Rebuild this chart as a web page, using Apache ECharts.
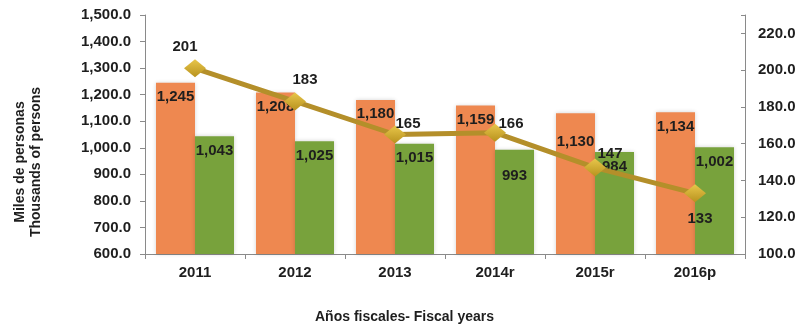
<!DOCTYPE html>
<html><head><meta charset="utf-8">
<script src="https://cdn.jsdelivr.net/npm/echarts@6/dist/echarts.min.js"></script>
<style>html,body{margin:0;padding:0;background:#fff}#c{width:802px;height:328px}</style>
</head><body><div id="c"></div>
<script>
const categories = ['2011','2012','2013','2014r','2015r','2016p'];
const seriesOrange = [1245,1208,1180,1159,1130,1134];
const seriesGreen = [1043,1025,1015,993,984,1002];
const seriesLine = [201,183,165,166,147,133];
const leftAxisRange = [600,1500,100];
const rightAxisRange = [100,230,20];
const xTitle = 'Años fiscales- Fiscal years';
const yTitle = 'Miles de personas\nThousands of persons';

// label placement styles (not data)
const orangeLabelDist = [7,7,6,7,21,7];
const greenLabelDist = [7,7,7,19,7,7];
const lineLabelOffsets = [[-10,-21],[10,-22],[13,-11],[16,-9],[15,-14],[5,26]];

const FONT = 'Liberation Sans, Arial, sans-serif';
const chart = echarts.init(document.getElementById('c'));
const fmt1 = v => Number(v).toLocaleString('en-US',{minimumFractionDigits:1,maximumFractionDigits:1});
const labelStyle = {fontFamily:FONT,fontWeight:'bold',fontSize:15,color:'#1e1e1e'};

chart.setOption({
  animation:false,
  textStyle:{fontFamily:FONT},
  grid:{left:145,right:57,top:15,bottom:74},
  xAxis:{type:'category',data:categories,boundaryGap:true,
    axisLine:{lineStyle:{color:'#8a8a8a',width:1}},
    axisTick:{show:true,length:5,lineStyle:{color:'#8a8a8a'}},
    axisLabel:Object.assign({margin:11},labelStyle)},
  yAxis:[
    {type:'value',min:leftAxisRange[0],max:leftAxisRange[1],interval:leftAxisRange[2],
     splitLine:{show:false},
     axisLine:{show:true,lineStyle:{color:'#8a8a8a'}},
     axisTick:{show:true,length:5,lineStyle:{color:'#8a8a8a'}},
     axisLabel:Object.assign({margin:14,formatter:fmt1},labelStyle)},
    {type:'value',min:rightAxisRange[0],max:rightAxisRange[1],interval:rightAxisRange[2],
     splitLine:{show:false},
     axisLine:{show:true,lineStyle:{color:'#8a8a8a'}},
     axisTick:{show:true,inside:true,length:4,lineStyle:{color:'#8a8a8a'}},
     axisLabel:Object.assign({margin:13,formatter:v=> (v>220?'':fmt1(v))},labelStyle)}
  ],
  graphic:[
    {type:'text',top:310,left:315,
     style:{text:xTitle,fontFamily:FONT,fontWeight:'bold',fontSize:14,fill:'#1e1e1e'}},
    {type:'text',x:28,y:162,rotation:Math.PI/2,
     style:{text:yTitle,fontFamily:FONT,fontWeight:'bold',fontSize:14,lineHeight:16,fill:'#1e1e1e',align:'center',verticalAlign:'middle'}}
  ],
  series:[
    {type:'bar',yAxisIndex:0,barGap:'0%',barCategoryGap:'22%',
     itemStyle:{color:'#EE8850',shadowBlur:4,shadowColor:'rgba(0,0,0,0.18)'},
     data:seriesOrange.map((v,i)=>({value:v,label:{distance:orangeLabelDist[i]}})),
     label:Object.assign({show:true,position:'insideTop',formatter:p=>p.value.toLocaleString('en-US')},labelStyle)},
    {type:'bar',yAxisIndex:0,
     itemStyle:{color:'#78A23C',shadowBlur:4,shadowColor:'rgba(0,0,0,0.18)'},
     data:seriesGreen.map((v,i)=>({value:v,label:{distance:greenLabelDist[i]}})),
     label:Object.assign({show:true,position:'insideTop',formatter:p=>p.value.toLocaleString('en-US')},labelStyle)},
    {type:'line',yAxisIndex:1,z:5,
     lineStyle:{color:'#B48F2A',width:5},
     symbol:'diamond',symbolSize:[22,18],
     itemStyle:{color:{type:'linear',x:0,y:0,x2:0,y2:1,colorStops:[{offset:0,color:'#E8C64A'},{offset:1,color:'#B8921E'}]}},
     data:seriesLine.map((v,i)=>({value:v,label:{offset:lineLabelOffsets[i]}})),
     label:Object.assign({show:true,position:'inside'},labelStyle)}
  ]
});
</script></body></html>
